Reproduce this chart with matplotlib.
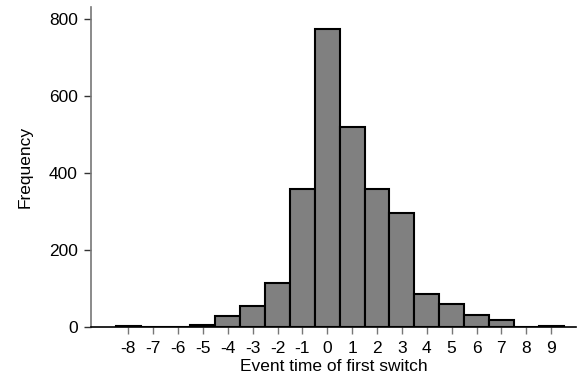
import matplotlib.pyplot as plt

# event time of first switch and how often it occurs
event_time = [-8, -7, -6, -5, -4, -3, -2, -1, 0, 1, 2, 3, 4, 5, 6, 7, 8, 9]
frequency = [3, 2, 2, 5, 29, 56, 115, 359, 775, 520, 358, 296, 87, 61, 33, 19, 2, 3]

plt.rcParams['font.family'] = ['Liberation Sans', 'DejaVu Sans']
plt.rcParams['axes.unicode_minus'] = False

fig = plt.figure(figsize=(5.81, 3.81), dpi=100)
ax = fig.add_axes([91 / 581, 53.7 / 381, 485 / 581, 320 / 381])

ax.bar(event_time, frequency, width=1.0, color='#808080',
       edgecolor='black', linewidth=1.5)

ax.set_xlim(-9.5, 10.0)
ax.set_ylim(0, 831)
ax.set_xticks(event_time)
ax.set_yticks([0, 200, 400, 600, 800])

ax.spines['top'].set_visible(False)
ax.spines['right'].set_visible(False)
ax.spines['left'].set_color('#777777')
ax.spines['left'].set_linewidth(1.2)
ax.spines['bottom'].set_color('black')
ax.spines['bottom'].set_linewidth(1.2)

ax.tick_params(axis='y', length=5, width=1, color='#333333',
               labelsize=12.5, pad=4.5)
ax.tick_params(axis='x', length=5, width=1, color='#777777',
               labelsize=12.5, pad=5)

ax.set_xlabel('Event time of first switch', fontsize=12.5, labelpad=2)
ax.set_ylabel('Frequency', fontsize=12.5, labelpad=12)

fig.savefig('out.png', dpi=100)
